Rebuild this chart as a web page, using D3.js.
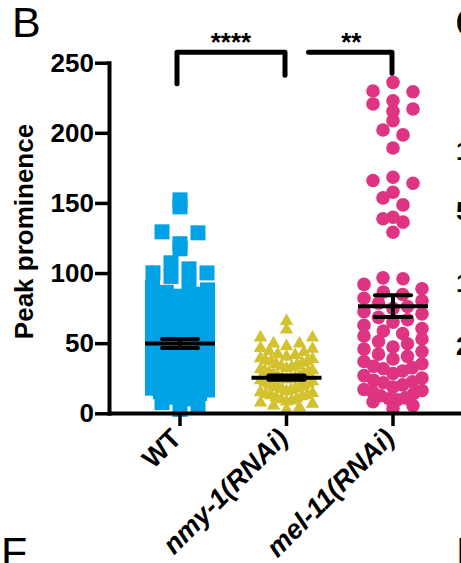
<!DOCTYPE html>
<html>
<head>
<meta charset="utf-8">
<script src="https://cdn.jsdelivr.net/npm/d3@7"></script>
<style>
  body { margin: 0; background: #fff; }
  svg { display: block; font-family: "Liberation Sans", Arial, sans-serif; }
</style>
</head>
<body>
<script>
// Constantes de la visualización.
const WIDTH = 461;
const HEIGHT = 563;

// Datos.
const categorias = ["WT", "nmy-1(RNAi)", "mel-11(RNAi)"];
const ticksY = [0, 50, 100, 150, 200, 250];

const valoresWT = [
  152.2, 147.2, 129.4, 128.7, 120.9, 117.3, 107.3, 103.0, 100.2, 100.1,
  97.6, 93.1, 89.8, 88.0, 86.3, 84.9, 83.5, 81.2, 80.6, 78.9, 77.1, 75.8,
  74.4, 72.6, 71.9, 69.5, 68.2, 66.7, 65.3, 63.8, 62.1, 60.9, 59.4, 57.6,
  56.8, 55.2, 53.7, 52.3, 50.6, 49.8, 48.1, 46.9, 45.2, 44.0, 42.7, 41.3,
  40.1, 38.8, 37.2, 36.5, 34.9, 33.6, 32.2, 30.8, 29.7, 28.1, 27.4, 25.9,
  24.3, 23.1, 21.8, 20.5, 19.2, 17.9, 16.6, 15.4, 14.1, 12.8, 11.5, 10.3,
  7.6, 5.1, 2.8, 35.7, 26.8, 18.7, 13.3,
];

const valoresNmy = [
  65.7, 59.6, 54.0, 53.9, 49.7, 49.6, 47.8, 46.5, 45.9, 44.2, 43.6, 42.1,
  41.4, 40.3, 39.2, 38.7, 37.5, 36.8, 35.9, 35.1, 34.4, 33.6, 32.9, 32.0,
  31.3, 30.6, 29.8, 29.1, 28.4, 27.7, 27.0, 26.2, 25.5, 24.9, 24.1, 23.4,
  22.8, 22.0, 21.3, 20.7, 19.9, 19.2, 18.5, 17.8, 17.1, 16.4, 15.7, 15.0,
  14.3, 13.6, 12.8, 12.1, 11.4, 10.6, 9.9, 9.1, 8.3, 7.6, 6.8, 5.4, 4.2,
  2.6, 37.0, 30.1, 24.5, 18.9, 13.0,
];

const valoresMel = [
  236.0, 229.8, 229.3, 222.9, 220.6, 217.0, 215.3, 208.7, 202.0, 198.5,
  189.2, 168.3, 166.0, 164.0, 157.6, 153.6, 148.6, 139.8, 138.7, 136.3,
  129.1, 96.6, 95.9, 91.9, 88.8, 86.5, 84.7, 82.0, 80.3, 78.6, 76.2, 74.8,
  72.5, 70.9, 68.4, 66.7, 64.9, 62.8, 60.5, 58.7, 56.9, 55.1, 53.0, 51.2,
  49.6, 47.3, 45.8, 44.1, 42.2, 40.6, 38.7, 36.9, 35.3, 33.5, 31.8, 30.2,
  28.4, 26.9, 25.1, 23.6, 21.8, 20.3, 18.7, 17.0, 15.6, 14.1, 12.5, 11.0,
  9.6, 8.2, 5.5, 3.4, 32.6, 22.5, 16.3, 10.4,
];

// Media y error estándar de cada grupo.
const medias = [49.8, 25.4, 76.4];
const errores = [3.2, 1.5, 7.7];

// Comparaciones estadísticas.
const comparaciones = ["****", "**"];

const colores = ["#00a2e6", "#d3c12e", "#df3481"];

const svg = d3.select("body")
  .append("svg")
  .attr("width", WIDTH)
  .attr("height", HEIGHT);

// Escalas.
const escalaY = d3.scaleLinear()
  .domain([0, 250])
  .range([413.3, 62.7]);

const escalaX = d3.scaleBand()
  .domain(categorias)
  .range([109, 464])
  .paddingInner(0)
  .paddingOuter(1 / 6);

const centro = (c) => escalaX(c) + escalaX.bandwidth() / 2;

// Reparte los puntos por filas como en Prism: cada fila se abre hacia los
// lados y, si no cabe, se comprime dentro del ancho de la columna.
function beeswarm(valores, alto, paso, ancho) {
  const filas = d3.group(valores.map((v) => ({ v, y: escalaY(v) })),
    (p) => Math.floor((escalaY(0) - escalaY(p.v)) / alto));
  const puntos = [];
  filas.forEach((fila) => {
    fila.sort((a, b) => a.v - b.v);
    const n = fila.length;
    const s = n > 1 ? Math.min(paso, ancho / (n - 1)) : 0;
    const offsets = d3.range(n).map((j) => (j - (n - 1) / 2) * s)
      .sort((a, b) => Math.abs(a) - Math.abs(b) || b - a);
    fila.forEach((p, j) => {
      p.dx = offsets[j];
      puntos.push(p);
    });
  });
  return puntos;
}

// WT: cuadrados.
const puntosWT = beeswarm(valoresWT, 13, 18, 55);
svg.append("g")
  .selectAll("rect")
  .data(puntosWT)
  .join("rect")
  .attr("x", (d) => centro(categorias[0]) + d.dx - 7.5)
  .attr("y", (d) => d.y - 7.5)
  .attr("width", 15)
  .attr("height", 15)
  .attr("fill", colores[0]);

// nmy-1: triángulos.
const puntosNmy = beeswarm(valoresNmy, 11, 16, 52);
svg.append("g")
  .selectAll("path")
  .data(puntosNmy)
  .join("path")
  .attr("d", d3.symbol(d3.symbolTriangle).size(78))
  .attr("transform", (d) => `translate(${centro(categorias[1]) + d.dx}, ${d.y})`)
  .attr("fill", colores[1]);

// mel-11: círculos.
const puntosMel = beeswarm(valoresMel, 13, 20, 58);
svg.append("g")
  .selectAll("circle")
  .data(puntosMel)
  .join("circle")
  .attr("cx", (d) => centro(categorias[2]) + d.dx)
  .attr("cy", (d) => d.y)
  .attr("r", 6.8)
  .attr("fill", colores[2]);

// Media y error estándar.
const resumen = categorias.map((c, i) => ({ c, m: medias[i], e: errores[i] }));
const gRes = svg.append("g").attr("stroke", "#000").attr("stroke-width", 4);
gRes.selectAll(".media")
  .data(resumen)
  .join("line")
  .attr("x1", (d) => centro(d.c) - 35)
  .attr("x2", (d) => centro(d.c) + 35)
  .attr("y1", (d) => escalaY(d.m))
  .attr("y2", (d) => escalaY(d.m));
gRes.selectAll(".vert")
  .data(resumen)
  .join("line")
  .attr("x1", (d) => centro(d.c))
  .attr("x2", (d) => centro(d.c))
  .attr("y1", (d) => escalaY(d.m + d.e))
  .attr("y2", (d) => escalaY(d.m - d.e));
[1, -1].forEach((s) => {
  gRes.append("g")
    .selectAll("line")
    .data(resumen)
    .join("line")
    .attr("stroke-linecap", "round")
    .attr("x1", (d) => centro(d.c) - 18)
    .attr("x2", (d) => centro(d.c) + 18)
    .attr("y1", (d) => escalaY(d.m + s * d.e))
    .attr("y2", (d) => escalaY(d.m + s * d.e));
});

// Ejes.
const ejeY = d3.axisLeft(escalaY)
  .tickValues(ticksY)
  .tickSize(14)
  .tickSizeOuter(0)
  .tickPadding(1);

const gY = svg.append("g")
  .attr("transform", "translate(109, 0)")
  .call(ejeY);
gY.select(".domain").attr("stroke-width", 4).attr("stroke-linecap", "square");
gY.selectAll(".tick line").attr("stroke-width", 3.5);
gY.selectAll("text")
  .attr("font-family", "Liberation Sans, Arial, sans-serif")
  .attr("font-size", 26)
  .attr("font-weight", "bold")
  .attr("fill", "#000");

const ejeX = d3.axisBottom(escalaX)
  .tickSize(13)
  .tickSizeOuter(0);

const gX = svg.append("g")
  .attr("transform", "translate(0, 413)")
  .call(ejeX);
gX.select(".domain").attr("stroke-width", 4);
gX.selectAll(".tick line").attr("stroke-width", 3.5);
gX.selectAll("text")
  .attr("font-family", "Liberation Sans, Arial, sans-serif")
  .attr("font-size", 27)
  .attr("font-weight", "bold")
  .attr("font-style", (d, i) => (i === 0 ? "normal" : "italic"))
  .attr("fill", "#000")
  .attr("text-anchor", "end")
  .attr("x", 0)
  .attr("y", 0)
  .attr("dy", 0)
  .attr("transform", "translate(3, 27) rotate(-45)");

// Título del eje Y.
svg.append("text")
  .attr("transform", "translate(33, 231.5) rotate(-90)")
  .attr("text-anchor", "middle")
  .attr("font-size", 26)
  .attr("font-weight", "bold")
  .text("Peak prominence");

// Corchetes de significancia.
const yCorchete = escalaY(257.5);
const gSig = svg.append("g")
  .attr("fill", "none")
  .attr("stroke", "#000")
  .attr("stroke-width", 5)
  .attr("stroke-linecap", "round")
  .attr("stroke-linejoin", "round");

const x0 = centro(categorias[0]) - 3;
const x1 = centro(categorias[1]) - 1.5;
gSig.append("path")
  .attr("d", `M${x0},${escalaY(235)}V${yCorchete}H${x1}V${escalaY(241)}`);

const x2 = centro(categorias[1]) + 22;
const x3 = centro(categorias[2]) - 1;
gSig.append("path")
  .attr("d", `M${x2},${yCorchete}H${x3}V${escalaY(242.5)}`);

svg.append("g")
  .selectAll("text")
  .data(comparaciones)
  .join("text")
  .attr("x", (d, i) => (i === 0 ? (x0 + x1) / 2 : (x2 + x3) / 2 + 1))
  .attr("y", yCorchete - 1)
  .attr("text-anchor", "middle")
  .attr("font-size", 26)
  .attr("font-weight", "bold")
  .text((d) => d);

// Letras de los paneles y restos de los paneles vecinos.
const letras = [
  { t: "B", x: 12, y: 37 },
  { t: "C", x: 455, y: 37 },
  { t: "F", x: 1, y: 567 },
  { t: "H", x: 456, y: 567 },
];
svg.append("g")
  .selectAll("text")
  .data(letras)
  .join("text")
  .attr("x", (d) => d.x)
  .attr("y", (d) => d.y)
  .attr("font-size", 43)
  .text((d) => d.t);

const restos = [
  { t: "1", y: 160 },
  { t: "5", y: 220 },
  { t: "1", y: 292 },
  { t: "2", y: 355 },
];
svg.append("g")
  .selectAll("text")
  .data(restos)
  .join("text")
  .attr("x", 456)
  .attr("y", (d) => d.y)
  .attr("font-size", 26)
  .attr("font-weight", "bold")
  .text((d) => d.t);
</script>
</body>
</html>
